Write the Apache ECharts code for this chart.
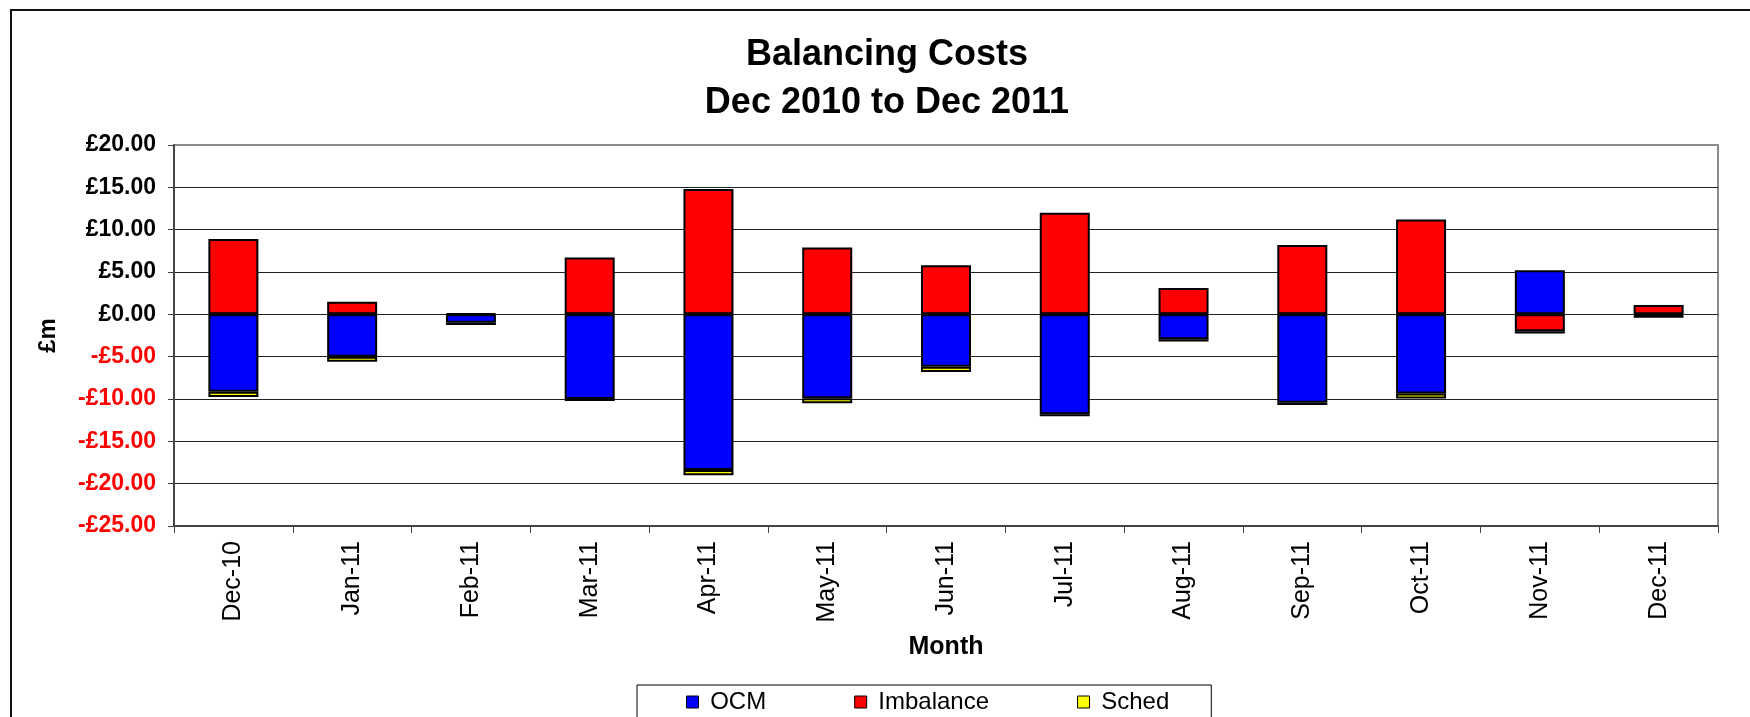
<!DOCTYPE html>
<html>
<head>
<meta charset="utf-8">
<script src="https://cdn.jsdelivr.net/npm/echarts@6/dist/echarts.min.js"></script>
<style>
html,body{margin:0;padding:0;background:#fff;}
#chart{width:1750px;height:717px;}
</style>
</head>
<body>
<div id="chart"></div>
<script>
var categories = ['Dec-10','Jan-11','Feb-11','Mar-11','Apr-11','May-11','Jun-11','Jul-11','Aug-11','Sep-11','Oct-11','Nov-11','Dec-11'];
var ocm = [-9.15, -5.0, -1.0, -10.0, -18.4, -9.9, -6.2, -11.8, -2.95, -10.45, -9.35, 5.2, -0.15];
var imbalance = [8.9, 1.5, 0.1, 6.7, 14.8, 7.9, 5.8, 12.0, 3.1, 8.2, 11.2, -2.0, 1.1];
var sched = [-0.6, -0.6, -0.25, -0.25, -0.6, -0.6, -0.6, -0.25, -0.25, -0.25, -0.6, -0.25, -0.25];
var seriesNames = ['OCM', 'Imbalance', 'Sched'];
var seriesColors = ['#0000FF', '#FF0000', '#FFFF00'];

var FONT = '"Liberation Sans", Arial, sans-serif';
var chart = echarts.init(document.getElementById('chart'));

function barSeries(name, data, color) {
  return {
    name: name,
    type: 'bar',
    stack: 'total',
    barWidth: 50,
    data: data,
    itemStyle: { color: color, borderColor: '#000', borderWidth: 2 },
    emphasis: { disabled: true }
  };
}

var gridColors = ['#222','#222','#222','#222','#222','#222','#222','#222','#222','#8c8c8c'];

chart.setOption({
  animation: false,
  backgroundColor: '#fff',
  title: {
    text: 'Balancing Costs\nDec 2010 to Dec 2011',
    left: 887,
    top: 31,
    padding: 0,
    textAlign: 'center',
    textStyle: { fontFamily: FONT, fontWeight: 'bold', fontSize: 36, lineHeight: 48, color: '#000' }
  },
  graphic: [{
    type: 'rect',
    shape: { x: 11, y: 10, width: 1800, height: 800 },
    style: { fill: 'none', stroke: '#111', lineWidth: 2 },
    silent: true, z: -1
  }],
  legend: {
    left: 637,
    top: 685,
    orient: 'horizontal',
    padding: [5, 42, 30, 49],
    borderColor: '#000',
    borderWidth: 1,
    itemWidth: 12,
    itemHeight: 12,
    itemGap: 88,
    icon: 'rect',
    itemStyle: { borderWidth: 1, borderColor: '#000' },
    formatter: function (n) { return ' ' + n; },
    textStyle: { fontFamily: FONT, fontSize: 24, color: '#000' },
    data: seriesNames
  },
  grid: {
    left: 174, right: 32, top: 145, bottom: 191,
    show: true, borderColor: '#8c8c8c', borderWidth: 2, backgroundColor: '#fff'
  },
  xAxis: {
    type: 'category',
    data: categories,
    name: 'Month',
    nameLocation: 'middle',
    nameGap: 109,
    nameTextStyle: { fontFamily: FONT, fontWeight: 'bold', fontSize: 25, color: '#000' },
    axisLine: { onZero: false, lineStyle: { color: '#444', width: 2 } },
    axisTick: { show: true, length: 7, lineStyle: { color: '#444', width: 1 } },
    axisLabel: { rotate: 90, margin: 15, fontFamily: FONT, fontSize: 25, color: '#000' },
    splitLine: { show: false }
  },
  yAxis: {
    type: 'value',
    min: -25,
    max: 20,
    interval: 5,
    name: '£m',
    nameLocation: 'middle',
    nameRotate: 90,
    nameGap: 114,
    nameTextStyle: { fontFamily: FONT, fontWeight: 'bold', fontSize: 24, color: '#000' },
    axisLine: { show: true, lineStyle: { color: '#444', width: 2 } },
    axisTick: { show: true, length: 6, lineStyle: { color: '#444', width: 1 } },
    axisLabel: {
      margin: 18,
      fontFamily: FONT, fontWeight: 'bold', fontSize: 23,
      formatter: function (v) { return (v < 0 ? '-£' : '£') + Math.abs(v).toFixed(2); },
      color: function (v) { return Number(v) < 0 ? '#FF0000' : '#000'; }
    },
    splitLine: { show: true, lineStyle: { color: gridColors, width: 1 } }
  },
  series: [
    barSeries(seriesNames[0], ocm, seriesColors[0]),
    barSeries(seriesNames[1], imbalance, seriesColors[1]),
    barSeries(seriesNames[2], sched, seriesColors[2])
  ]
});
</script>
</body>
</html>
